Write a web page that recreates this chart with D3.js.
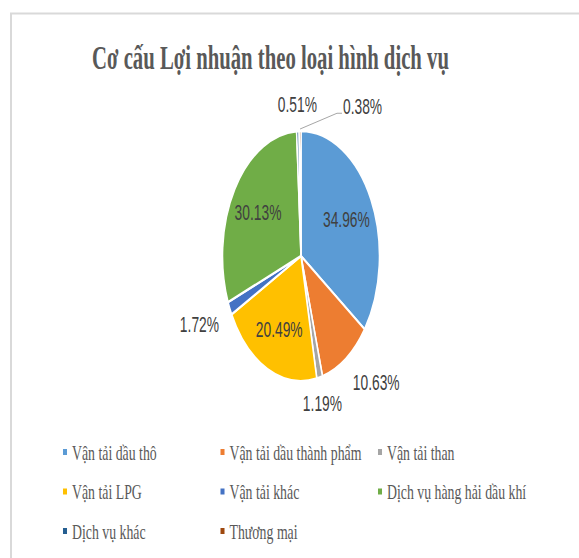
<!DOCTYPE html>
<html>
<head>
<meta charset="utf-8">
<script src="https://cdn.jsdelivr.net/npm/d3@7"></script>
<style>
  body { margin: 0; background: #fff; }
  svg { display: block; }
</style>
</head>
<body>
<div id="chart"></div>
<script>
const chartTitle = "Cơ cấu Lợi nhuận theo loại hình dịch vụ";
const categories = ["Vận tải dầu thô", "Vận tải dầu thành phẩm", "Vận tải than", "Vận tải LPG",
  "Vận tải khác", "Dịch vụ hàng hải dầu khí", "Dịch vụ khác", "Thương mại"];
const shares = [34.96, 10.63, 1.19, 20.49, 1.72, 30.13, 0.51, 0.38];
const colors = ["#5b9bd5", "#ed7d31", "#a5a5a5", "#ffc000", "#4472c4", "#70ad47", "#255e91", "#9e480e"];

// the reference is squeezed sideways, so draw in a wider space and let the viewBox squash it
const sx = 0.628;
const svgWidth = 579, svgHeight = 558;
const W = svgWidth / sx;
const X = px => px / sx;   // screen x -> drawing x

const svg = d3.select("#chart").append("svg")
  .attr("width", svgWidth)
  .attr("height", svgHeight)
  .attr("viewBox", `0 0 ${W} ${svgHeight}`)
  .attr("preserveAspectRatio", "none");

// frame edge (chart area is cut off on the right and bottom)
svg.append("path")
  .attr("d", `M${X(11)},${svgHeight} V13.5 H${W}`)
  .attr("fill", "none")
  .attr("stroke", "#d9d9d9")
  .attr("stroke-width", 2)
  .attr("vector-effect", "non-scaling-stroke");

svg.append("text")
  .attr("x", X(270.5))
  .attr("y", 69)
  .attr("text-anchor", "middle")
  .attr("font-family", "'Liberation Serif', 'Times New Roman', serif")
  .attr("font-weight", "bold")
  .attr("font-size", 33)
  .attr("fill", "#595959")
  .text(chartTitle);

// pie
const radius = 125;
const g = svg.append("g").attr("transform", `translate(${X(301)},256)`);

const pie = d3.pie().sort(null).value(d => d);
const arcs = pie(shares);
const arc = d3.arc().innerRadius(0).outerRadius(radius);
const inArc = d3.arc().innerRadius(radius * 0.65).outerRadius(radius * 0.65);
const outArc = d3.arc().innerRadius(radius * 1.15).outerRadius(radius * 1.15);

g.selectAll("path.slice")
  .data(arcs)
  .join("path")
  .attr("class", "slice")
  .attr("d", arc)
  .attr("fill", (d, i) => colors[i])
  .attr("stroke", "#fff")
  .attr("stroke-width", 2.5);

// data labels: big slices inside, small ones outside
let prevOut = null;
arcs.forEach((d, i) => {
  let label = g.append("text")
    .attr("font-family", "'Liberation Sans', Arial, sans-serif")
    .attr("font-size", 22)
    .attr("fill", "#404040")
    .text(shares[i].toFixed(2) + "%");

  if (shares[i] > 15) {
    let [x, y] = inArc.centroid(d);
    label.attr("x", x).attr("y", y).attr("text-anchor", "middle").attr("dy", "0.35em");
    return;
  }

  let mid = (d.startAngle + d.endAngle) / 2;
  let s = Math.sin(mid), c = Math.cos(mid);
  let [x, y] = outArc.centroid(d);
  let anchor = Math.abs(s) < 0.3 ? "middle" : (s > 0 ? "start" : "end");
  let dy = c > 0.3 ? "0em" : (c < -0.3 ? "0.72em" : "0.35em");
  label.attr("x", x).attr("y", y).attr("text-anchor", anchor).attr("dy", dy);

  let w = label.node().getComputedTextLength();
  // push a colliding label to the right and hook it up with a leader line
  if (prevOut && Math.abs(prevOut.x - x) < w && Math.abs(prevOut.y - y) < 20) {
    let left = prevOut.x + prevOut.w / 2 + X(26);
    label.attr("x", left).attr("y", y + 2).attr("text-anchor", "start").attr("dy", "0em");
    let [ex, ey] = d3.arc().innerRadius(radius + 2).outerRadius(radius + 2).centroid(d);
    g.append("path")
      .attr("d", `M${ex},${ey} L${left - X(6)},${y + 1} H${left - X(1)}`)
      .attr("fill", "none")
      .attr("stroke", "#a6a6a6")
      .attr("stroke-width", 1)
      .attr("vector-effect", "non-scaling-stroke");
  }
  prevOut = { x: x, y: y, w: w };
});

// legend, three per row
const legendCol = d3.scaleLinear().domain([0, 2]).range([X(65), X(380)]);
const legendRow = d3.scaleLinear().domain([0, 2]).range([452, 531]);

const legend = svg.selectAll("g.legend")
  .data(categories)
  .join("g")
  .attr("class", "legend")
  .attr("transform", (d, i) => `translate(${legendCol(i % 3)},${legendRow(Math.floor(i / 3))})`);

legend.append("rect")
  .attr("x", -3.2)
  .attr("y", -3)
  .attr("width", 6.4)
  .attr("height", 6)
  .attr("fill", (d, i) => colors[i]);

legend.append("text")
  .attr("x", X(7))
  .attr("dy", "0.35em")
  .attr("font-family", "'Liberation Serif', 'Times New Roman', serif")
  .attr("font-size", 22)
  .attr("fill", "#595959")
  .text(d => d);
</script>
</body>
</html>
